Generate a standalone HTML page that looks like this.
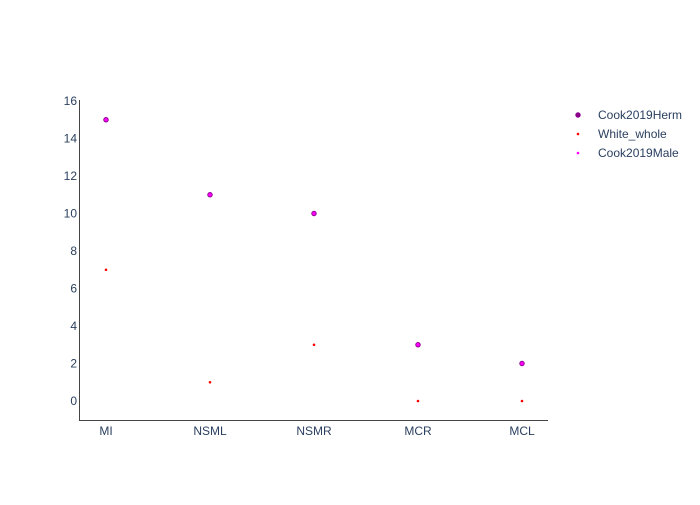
<!DOCTYPE html>
<html><head><meta charset="utf-8"><style>
body{margin:0;background:#fff}
text{font-family:"Liberation Sans",sans-serif;font-size:12px;fill:#2a3f5f}
</style></head><body>
<svg width="700" height="500">
<g id="axes"></g><g id="marks"></g><g id="legend"></g>
</svg>
<script>
const categories=["MI","NSML","NSMR","MCR","MCL"];
const herm=[15,11,10,3,2];
const white=[7,1,3,0,0];
const male=[15,11,10,3,2];
const yTicks=[0,2,4,6,8,10,12,14,16];
const NS="http://www.w3.org/2000/svg";
const x0=106,dx=104;
function xs(i){return x0+i*dx;}
function ys(v){return 401-v*18.75;}
function mk(tag,attrs,parent,txt){const e=document.createElementNS(NS,tag);for(const k in attrs)e.setAttribute(k,attrs[k]);if(txt!==undefined)e.textContent=txt;parent.appendChild(e);return e;}
const ax=document.getElementById('axes'),mg=document.getElementById('marks'),lg=document.getElementById('legend');
let l=mk('line',{x1:79.5,y1:100,x2:79.5,y2:420.5,stroke:'#444','stroke-width':1},ax);


l=mk('line',{x1:79,y1:420.5,x2:548,y2:420.5,stroke:'#444','stroke-width':1},ax);


yTicks.forEach(v=>{const t=mk('text',{x:77,y:ys(v)+4,'text-anchor':'end'},ax,v);

});
categories.forEach((c,i)=>{const t=mk('text',{x:xs(i),y:435,'text-anchor':'middle'},ax,c);

});
herm.forEach((v,i)=>{const p=mk('circle',{cx:xs(i),cy:ys(v),r:2.7,fill:'#8b008b'},mg);

});
white.forEach((v,i)=>{const p=mk('circle',{cx:xs(i),cy:ys(v),r:1.3,fill:'#ff0000'},mg);

});
male.forEach((v,i)=>{const p=mk('circle',{cx:xs(i),cy:ys(v),r:1.8,fill:'#ff00ff'},mg);

});
const leg=[["Cook2019Herm","#8b008b",2.7],["White_whole","#ff0000",1.3],["Cook2019Male","#ff00ff",1.3]];
leg.forEach((d,i)=>{const y=115+i*19;
const c=mk('circle',{cx:578,cy:y,r:d[2],fill:d[1]},lg);


const t=mk('text',{x:598,y:y+4},lg,d[0]);

});
</script>
</body></html>
